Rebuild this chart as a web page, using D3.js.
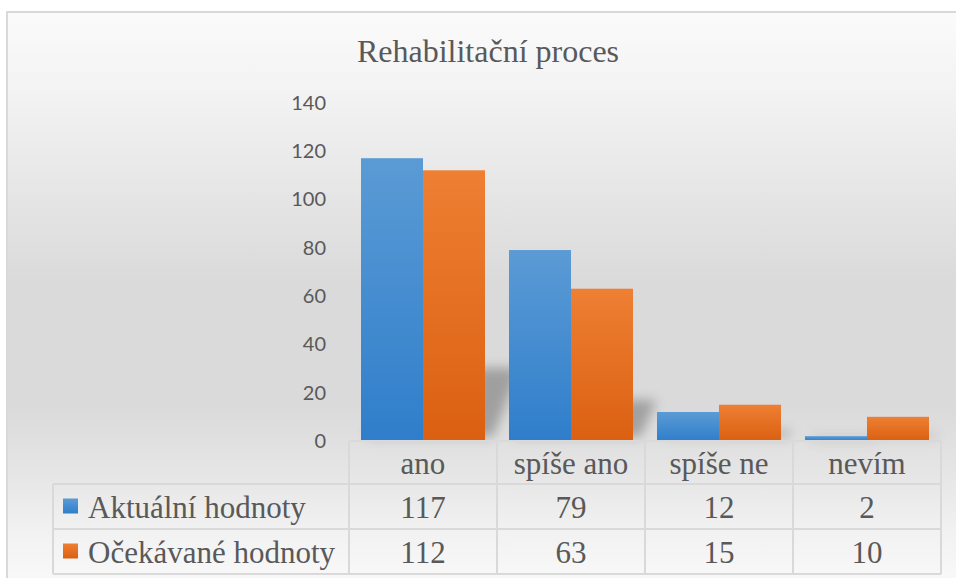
<!DOCTYPE html>
<html>
<head>
<meta charset="utf-8">
<script src="https://cdn.jsdelivr.net/npm/d3@7"></script>
<style>
  body { margin: 0; background: #fff; }
  svg { display: block; }
  .serif { font-family: "Liberation Serif", "Times New Roman", serif; }
</style>
</head>
<body>
<svg id="chart"></svg>
<script>
// data
let categories = ['ano', 'spíše ano', 'spíše ne', 'nevím']
let seriesNames = ['Aktuální hodnoty', 'Očekávané hodnoty']
let aktualni = [117, 79, 12, 2]
let ocekavane = [112, 63, 15, 10]
let yTicks = [0, 20, 40, 60, 80, 100, 120, 140]

let width = 956
let height = 578
let svg = d3.select('#chart')
  .attr('width', width)
  .attr('height', height)

let plot = { left: 349, right: 941, top: 102.6, bottom: 441 }
let rowTop = [441, 484, 529, 574]
let tableLeft = 53
let textColor = '#595959'
let lineColor = '#d9d9d9'

let defs = svg.append('defs')
let bg = defs.append('linearGradient').attr('id', 'bg')
  .attr('x1', 0).attr('y1', 0).attr('x2', 0).attr('y2', 1)
;[[0, '#fbfbfb'], [0.15, '#f2f2f2'], [0.32, '#e5e5e5'], [0.47, '#dadada'], [0.68, '#dadada'], [0.8, '#e6e6e6'], [0.9, '#f2f2f2'], [1, '#fafafa']]
  .forEach(s => bg.append('stop').attr('offset', s[0]).attr('stop-color', s[1]))

let barColors = [['#5b9bd5', '#2f7ecb'], ['#ee7f33', '#db6011']]
barColors.forEach((c, i) => {
  let g = defs.append('linearGradient').attr('id', 'bar' + i)
    .attr('x1', 0).attr('y1', 0).attr('x2', 0).attr('y2', 1)
  g.append('stop').attr('offset', 0).attr('stop-color', c[0])
  g.append('stop').attr('offset', 1).attr('stop-color', c[1])
})
defs.append('filter').attr('id', 'blur')
  .attr('x', '-50%').attr('y', '-50%').attr('width', '200%').attr('height', '200%')
  .append('feGaussianBlur').attr('stdDeviation', 6)

// chart area
svg.append('rect')
  .attr('x', 7).attr('y', 12)
  .attr('width', 960).attr('height', 580)
  .attr('fill', 'url(#bg)')
  .attr('stroke', lineColor)
  .attr('stroke-width', 2)

svg.append('text')
  .attr('class', 'serif')
  .attr('x', 488).attr('y', 62)
  .attr('text-anchor', 'middle')
  .attr('font-size', 32)
  .attr('fill', textColor)
  .text('Rehabilitační proces')

let x0 = d3.scaleBand().domain(categories).range([plot.left, plot.right])
let x1 = d3.scaleBand().domain(seriesNames).range([12, x0.bandwidth() - 12])
let y = d3.scaleLinear().domain([0, 140]).range([plot.bottom, plot.top])

let yAxis = d3.axisLeft(y).tickValues(yTicks).tickSize(0).tickPadding(0)
let yg = svg.append('g')
  .attr('transform', 'translate(326,0)')
  .call(yAxis)
yg.select('.domain').remove()
yg.attr('font-family', 'Lato, sans-serif').attr('font-size', 20)
yg.selectAll('text')
  .attr('fill', textColor)

let rows = categories.map((c, i) => ({ cat: c, values: [aktualni[i], ocekavane[i]] }))

// soft perspective shadows
let shadows = svg.append('g').attr('filter', 'url(#blur)').attr('opacity', 0.4)
rows.forEach(r => {
  r.values.forEach((v, si) => {
    let xa = x0(r.cat) + x1(seriesNames[si])
    let xb = xa + x1.bandwidth()
    let h = y(0) - y(v)
    let sh = h * 0.27
    let dx = h * 0.1
    shadows.append('path')
      .attr('d', `M${xa + 6},${y(0) - 4} L${xb + 8},${y(0) - 4} L${xb + 8 + dx},${y(0) - sh} L${xa + 6 + dx},${y(0) - sh} Z`)
      .attr('fill', '#4a4a4a')
  })
})

let groups = svg.selectAll('g.cat')
  .data(rows)
  .enter()
  .append('g')
  .attr('class', 'cat')
  .attr('transform', d => `translate(${x0(d.cat)},0)`)

groups.selectAll('rect')
  .data(d => d.values.map((v, i) => ({ name: seriesNames[i], value: v, i: i })))
  .enter()
  .append('rect')
  .attr('x', d => x1(d.name))
  .attr('y', d => y(d.value))
  .attr('width', x1.bandwidth())
  .attr('height', d => y(0) - y(d.value))
  .attr('fill', d => `url(#bar${d.i})`)

// data table
let table = svg.append('g')
let hline = (xa, xb, yy) => table.append('line')
  .attr('x1', xa).attr('x2', xb).attr('y1', yy).attr('y2', yy)
  .attr('stroke', lineColor).attr('stroke-width', 2)
let vline = (xx, ya, yb) => table.append('line')
  .attr('x1', xx).attr('x2', xx).attr('y1', ya).attr('y2', yb)
  .attr('stroke', lineColor).attr('stroke-width', 2)

hline(plot.left, plot.right, rowTop[0])
hline(tableLeft, plot.right, rowTop[1])
hline(tableLeft, plot.right, rowTop[2])
hline(tableLeft, plot.right, rowTop[3])
vline(tableLeft, rowTop[1], rowTop[3])
categories.forEach(c => vline(x0(c), rowTop[0], rowTop[3]))
vline(plot.right, rowTop[0], rowTop[3])

let cellText = (xx, row, s, anchor) => table.append('text')
  .attr('class', 'serif')
  .attr('x', xx)
  .attr('y', (rowTop[row] + rowTop[row + 1]) / 2 + 11)
  .attr('text-anchor', anchor)
  .attr('font-size', 31)
  .attr('fill', textColor)
  .text(s)

categories.forEach(c => cellText(x0(c) + x0.bandwidth() / 2, 0, c, 'middle'))
let seriesData = [aktualni, ocekavane]
seriesNames.forEach((name, si) => {
  let cy = (rowTop[si + 1] + rowTop[si + 2]) / 2
  table.append('rect')
    .attr('x', 63).attr('y', cy - 8)
    .attr('width', 15).attr('height', 15)
    .attr('fill', `url(#bar${si})`)
  cellText(88, si + 1, name, 'start')
  categories.forEach((c, ci) => cellText(x0(c) + x0.bandwidth() / 2, si + 1, seriesData[si][ci], 'middle'))
})
</script>
</body>
</html>
